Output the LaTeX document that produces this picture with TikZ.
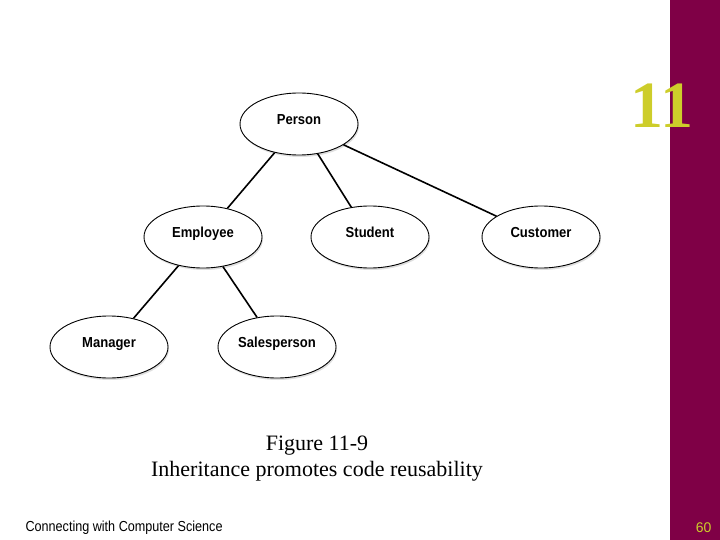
\documentclass[tikz,border=0pt]{standalone}
\usepackage{fontspec}
\setmainfont{Liberation Serif}
\setsansfont{Liberation Sans}
\usetikzlibrary{shapes.geometric,shadows}
\definecolor{barcolor}{HTML}{7F0046}
\definecolor{numcolor}{HTML}{CDCD2A}
\tikzset{
    classnode/.style={draw,line width=0.9pt,ellipse,fill=white,minimum width=118pt,minimum height=62pt,
        inner sep=0pt,text height=7pt,text depth=6pt,
        font=\sffamily\bfseries\fontsize{14.5}{16}\selectfont\addfontfeature{FakeStretch=0.9},
        drop shadow={shadow xshift=1pt,shadow yshift=-2pt,opacity=0.25}},
    link/.style={line width=1.6pt}
}
\begin{document}
\begin{tikzpicture}[x=1pt,y=-1pt]
    \useasboundingbox (0,0) rectangle (720,540);
    \fill[barcolor] (670,0) rectangle (720,540);
    \node[font=\bfseries\fontsize{66}{66}\selectfont,text=numcolor] (chap) at (662,106) {11};

    \node[classnode] (Person) at (299,124) {Person};
    \node[classnode] (Employee) at (203,237) {Employee};
    \node[classnode] (Student) at (370,237) {Student};
    \node[classnode] (Customer) at (541,237) {Customer};
    \node[classnode] (Manager) at (109,347) {Manager};
    \node[classnode] (Salesperson) at (277,347) {Salesperson};

    \draw[link] (Person) -- (Employee);
    \draw[link] (Person) -- (Student);
    \draw[link] (Person) -- (Customer);
    \draw[link] (Employee) -- (Manager);
    \draw[link] (Employee) -- (Salesperson);

    \node[align=center,font=\fontsize{22}{26}\selectfont] (caption) at (317,459)
        {Figure 11-9\\Inheritance promotes code reusability};
    \node[anchor=west,font=\sffamily\fontsize{14.5}{16}\selectfont\addfontfeature{FakeStretch=0.87}] (footer) at (22,528) {Connecting with Computer Science};
    \node[anchor=east,text=numcolor,font=\sffamily\fontsize{14}{16}\selectfont] (page) at (715,528) {60};
\end{tikzpicture}
\end{document}
